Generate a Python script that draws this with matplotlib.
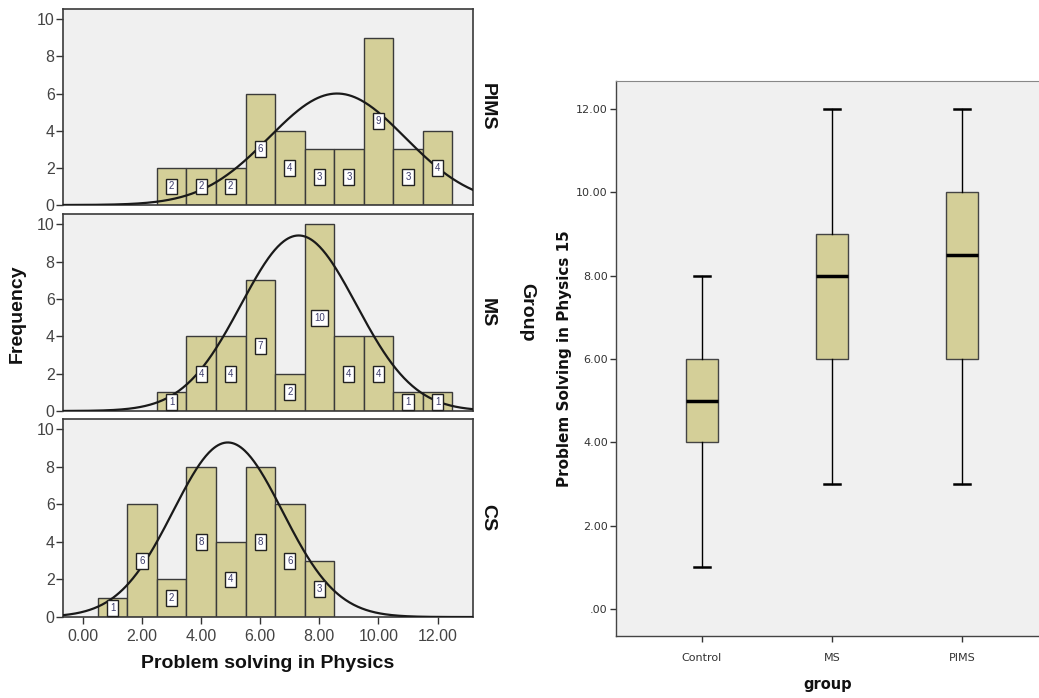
import matplotlib.pyplot as plt
import numpy as np

# Histogram data (score value -> frequency) per group
pims_vals = [3, 4, 5, 6, 7, 8, 9, 10, 11, 12]
pims_counts = [2, 2, 2, 6, 4, 3, 3, 9, 3, 4]
ms_vals = [3, 4, 5, 6, 7, 8, 9, 10, 11, 12]
ms_counts = [1, 4, 4, 7, 2, 10, 4, 4, 1, 1]
cs_vals = [1, 2, 3, 4, 5, 6, 7, 8]
cs_counts = [1, 6, 2, 8, 4, 8, 6, 3]

# Normal curve: centre, sd, peak height
pims_curve = [8.6, 2.3, 6.0]
ms_curve = [7.3, 1.95, 9.4]
cs_curve = [4.9, 1.85, 9.3]

# Boxplot summary (whisker low, q1, median, q3, whisker high)
box_groups = ['Control', 'MS', 'PIMS']
box_low = [1, 3, 3]
box_q1 = [4, 6, 6]
box_med = [5, 8, 8.5]
box_q3 = [6, 9, 10]
box_high = [8, 12, 12]

bar_color = '#D4CF98'
edge = '#3a3a3a'
bg = '#F0F0F0'
txt = '#333333'
arial = ['Liberation Sans', 'DejaVu Sans']

fig = plt.figure(figsize=(10.39, 6.98), dpi=100)

panels = [
    ('PIMS', pims_vals, pims_counts, pims_curve, [0.0606, 0.7063, 0.3946, 0.2808]),
    ('MS', ms_vals, ms_counts, ms_curve, [0.0606, 0.4112, 0.3946, 0.2822]),
    ('CS', cs_vals, cs_counts, cs_curve, [0.0606, 0.1160, 0.3946, 0.2837]),
]

xs = np.linspace(-0.68, 13.2, 400)
for i, (name, vals, counts, curve, rect) in enumerate(panels):
    ax = fig.add_axes(rect)
    ax.set_facecolor(bg)
    ax.bar(vals, counts, width=1.0, color=bar_color, edgecolor=edge, linewidth=1.0, zorder=2)
    mu, sd, peak = curve
    ax.plot(xs, peak * np.exp(-0.5 * ((xs - mu) / sd) ** 2), color='#1a1a1a', lw=1.6, zorder=3)
    for v, c in zip(vals, counts):
        ax.text(v, c / 2, str(c), ha='center', va='center', fontsize=7, color='#3d3d6b',
                family=arial, zorder=4,
                bbox=dict(boxstyle='square,pad=0.3', fc='white', ec='#222222', lw=1.0))
    ax.set_xlim(-0.68, 13.2)
    ax.set_ylim(0, 10.55)
    ax.set_yticks([0, 2, 4, 6, 8, 10])
    ax.tick_params(axis='y', direction='out', length=5, width=1.0, color=txt,
                   labelsize=11.5, labelcolor='#444444', pad=1)
    if i == 2:
        ax.set_xticks([0, 2, 4, 6, 8, 10, 12])
        ax.set_xticklabels(['0.00', '2.00', '4.00', '6.00', '8.00', '10.00', '12.00'])
        ax.tick_params(axis='x', direction='out', length=5, width=1.0, color=txt,
                       labelsize=11.5, labelcolor='#444444')
        ax.set_xlabel('Problem solving in Physics', fontsize=14, fontweight='bold',
                      family=arial, color='#111111', labelpad=8)
    else:
        ax.set_xticks([])
    for lab in ax.get_yticklabels() + ax.get_xticklabels():
        lab.set_family(arial)
    for s in ax.spines.values():
        s.set_color(edge)
        s.set_linewidth(1.2)
    ax.text(1.035, 0.5, name, transform=ax.transAxes, rotation=-90, ha='center', va='center',
            fontsize=14, fontweight='bold', family=arial, color='#111111')

fig.text(0.017, 0.55, 'Frequency', rotation=90, ha='center', va='center', fontsize=14,
         fontweight='bold', family=arial, color='#111111')
fig.text(0.507, 0.552, 'Group', rotation=-90, ha='center', va='center', fontsize=14,
         fontweight='bold', family=arial, color='#111111')

# Boxplot
bx = fig.add_axes([0.5929, 0.0888, 0.4071, 0.795])
bx.set_facecolor(bg)
stats = []
for g, lo, q1, md, q3, hi in zip(box_groups, box_low, box_q1, box_med, box_q3, box_high):
    stats.append(dict(label=g, whislo=lo, q1=q1, med=md, q3=q3, whishi=hi, fliers=[]))
bx.bxp(stats, positions=[1, 2, 3], widths=0.25, showfliers=False, patch_artist=True,
       boxprops=dict(facecolor=bar_color, edgecolor='#444444', linewidth=1.0),
       medianprops=dict(color='black', linewidth=2.5),
       whiskerprops=dict(color='black', linewidth=1.0),
       capprops=dict(color='black', linewidth=1.8), capwidths=0.125)
bx.set_xlim(0.34, 3.59)
bx.set_ylim(-0.65, 12.67)
bx.set_yticks([0, 2, 4, 6, 8, 10, 12])
bx.set_yticklabels(['.00', '2.00', '4.00', '6.00', '8.00', '10.00', '12.00'])
bx.tick_params(axis='both', direction='out', length=4, width=1.0, color=txt,
               labelsize=8, labelcolor=txt, pad=2)
bx.tick_params(axis='x', pad=8)
for s in ['left', 'bottom']:
    bx.spines[s].set_color('#444444')
    bx.spines[s].set_linewidth(1.0)
bx.spines['top'].set_color('#888888')
bx.spines['right'].set_visible(False)
bx.set_xlabel('group', fontsize=10.5, fontweight='bold', color='#111111', labelpad=10)
bx.set_ylabel('Problem Solving in Physics 15', fontsize=11, fontweight='bold',
              color='#111111', labelpad=3)

fig.savefig('out.png', dpi=100)
